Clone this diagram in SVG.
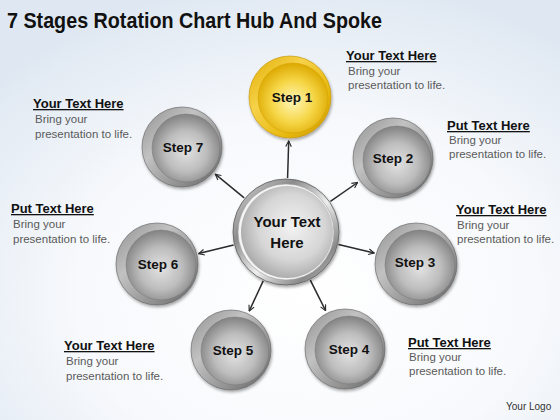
<svg xmlns="http://www.w3.org/2000/svg" width="560" height="420" viewBox="0 0 560 420">
<defs>
<radialGradient id="bg" cx="55%" cy="70%" r="75%">
<stop offset="0" stop-color="#ffffff"/>
<stop offset="0.55" stop-color="#f7f9fc"/>
<stop offset="1" stop-color="#dfe8f2"/>
</radialGradient>
<linearGradient id="ring" x1="0" y1="0" x2="1" y2="1">
<stop offset="0" stop-color="#8f8f8f"/>
<stop offset="0.35" stop-color="#c2c2c2"/>
<stop offset="0.7" stop-color="#929292"/>
<stop offset="1" stop-color="#606060"/>
</linearGradient>
<radialGradient id="disc" cx="50%" cy="55%" r="55%">
<stop offset="0" stop-color="#e2e2e2"/>
<stop offset="0.55" stop-color="#bdbdbd"/>
<stop offset="1" stop-color="#828282"/>
</radialGradient>
<linearGradient id="ringY" x1="0" y1="0" x2="1" y2="1">
<stop offset="0" stop-color="#e0ac00"/>
<stop offset="0.35" stop-color="#f6d24a"/>
<stop offset="0.7" stop-color="#e8b910"/>
<stop offset="1" stop-color="#c99500"/>
</linearGradient>
<radialGradient id="discY" cx="50%" cy="55%" r="55%">
<stop offset="0" stop-color="#fff6b8"/>
<stop offset="0.55" stop-color="#f6d646"/>
<stop offset="1" stop-color="#dca800"/>
</radialGradient>
<linearGradient id="hubRing" x1="0" y1="0" x2="1" y2="1">
<stop offset="0" stop-color="#d8d8d8"/>
<stop offset="0.3" stop-color="#8c8c8c"/>
<stop offset="0.55" stop-color="#eeeeee"/>
<stop offset="0.8" stop-color="#8a8a8a"/>
<stop offset="1" stop-color="#cfcfcf"/>
</linearGradient>
<radialGradient id="hubDisc" cx="55%" cy="45%" r="60%">
<stop offset="0" stop-color="#f2f2f2"/>
<stop offset="0.6" stop-color="#d6d6d6"/>
<stop offset="1" stop-color="#a4a4a4"/>
</radialGradient>
<filter id="sh" x="-30%" y="-30%" width="160%" height="160%">
<feDropShadow dx="1" dy="2" stdDeviation="1.5" flood-color="#000" flood-opacity="0.35"/>
</filter>
<marker id="ah" viewBox="0 0 10 10" refX="9" refY="5" markerWidth="7" markerHeight="7" orient="auto" markerUnits="userSpaceOnUse">
<path d="M1,1 L9,5 L1,9" fill="none" stroke="#2b2b2b" stroke-width="1.6"/>
</marker>
<style>
.title{font-family:"Liberation Sans",Arial,sans-serif;font-weight:bold;font-size:22px;fill:#111}
.hd{font-family:"Liberation Sans",Arial,sans-serif;font-weight:bold;font-size:13px;fill:#111;text-decoration:underline}
.bd{font-family:"Liberation Sans",Arial,sans-serif;font-size:11.5px;fill:#5a5a5a}
.st{font-family:"Liberation Sans",Arial,sans-serif;font-weight:bold;font-size:13.5px;fill:#111;text-anchor:middle}
.hub{font-family:"Liberation Sans",Arial,sans-serif;font-weight:bold;font-size:15px;fill:#111;text-anchor:middle}
.logo{font-family:"Liberation Sans",Arial,sans-serif;font-size:10px;fill:#333}
.ring{fill:url(#ring);stroke:#5e5e5e;stroke-width:0.6;filter:url(#sh)}
.disc{fill:url(#disc);stroke:#777;stroke-width:0.5}
.conn line{stroke:#2b2b2b;stroke-width:1.5;marker-end:url(#ah)}
</style>
</defs>
<rect width="560" height="420" fill="url(#bg)"/>
<text class="title" x="7" y="28" textLength="375" lengthAdjust="spacingAndGlyphs">7 Stages Rotation Chart Hub And Spoke</text>

<g id="connectors" class="conn">
<line x1="287.6" y1="178" x2="288.7" y2="141"/>
<line x1="330.4" y1="201.3" x2="357.6" y2="182.5"/>
<line x1="338.5" y1="244.5" x2="374.2" y2="253"/>
<line x1="310.3" y1="280.2" x2="325.6" y2="310.6"/>
<line x1="263.2" y1="280.9" x2="249.2" y2="311"/>
<line x1="233.6" y1="245" x2="198.7" y2="253.6"/>
<line x1="244.2" y1="197.8" x2="215.3" y2="174.2"/>
</g>

<g id="hub">
<circle cx="286" cy="232" r="53" fill="url(#hubRing)" stroke="#666" stroke-width="0.9" filter="url(#sh)"/>
<circle cx="286" cy="232" r="48" fill="#f4f4f4" stroke="#999" stroke-width="0.6"/>
<circle cx="287" cy="232" r="46" fill="url(#hubDisc)"/>
<text class="hub" x="287" y="227">Your Text</text>
<text class="hub" x="287" y="248">Here</text>
</g>

<g id="step1">
<circle cx="290" cy="97" r="41" fill="url(#ringY)" stroke="#c49200" stroke-width="0.6" filter="url(#sh)"/>
<circle cx="293" cy="98" r="35" fill="url(#discY)" stroke="#d2a000" stroke-width="0.5"/>
<text class="st" x="292" y="102">Step 1</text>
</g>
<g id="step2">
<circle class="ring" cx="393" cy="158" r="40"/>
<circle class="disc" cx="397" cy="160" r="34"/>
<text class="st" x="393" y="163">Step 2</text>
</g>
<g id="step3">
<circle class="ring" cx="416" cy="264" r="41"/>
<circle class="disc" cx="420" cy="265" r="35"/>
<text class="st" x="415" y="267">Step 3</text>
</g>
<g id="step4">
<circle class="ring" cx="345" cy="349" r="40"/>
<circle class="disc" cx="349" cy="350" r="34"/>
<text class="st" x="349" y="354">Step 4</text>
</g>
<g id="step5">
<circle class="ring" cx="231" cy="350" r="40"/>
<circle class="disc" cx="235" cy="351" r="34"/>
<text class="st" x="233" y="355">Step 5</text>
</g>
<g id="step6">
<circle class="ring" cx="157" cy="264" r="41"/>
<circle class="disc" cx="161" cy="265" r="35"/>
<text class="st" x="158" y="269">Step 6</text>
</g>
<g id="step7">
<circle class="ring" cx="182" cy="147" r="40"/>
<circle class="disc" cx="186" cy="148" r="34"/>
<text class="st" x="183" y="152">Step 7</text>
</g>

<g id="label1">
<text class="hd" x="346" y="60">Your Text Here</text>
<text class="bd" x="348" y="75">Bring your</text>
<text class="bd" x="348" y="89">presentation to life.</text>
</g>
<g id="label2">
<text class="hd" x="447" y="130">Put Text Here</text>
<text class="bd" x="449" y="144">Bring your</text>
<text class="bd" x="449" y="158">presentation to life.</text>
</g>
<g id="label3">
<text class="hd" x="456" y="214">Your Text Here</text>
<text class="bd" x="457" y="229">Bring your</text>
<text class="bd" x="457" y="243">presentation to life.</text>
</g>
<g id="label4">
<text class="hd" x="408" y="347">Put Text Here</text>
<text class="bd" x="409" y="361">Bring your</text>
<text class="bd" x="409" y="375">presentation to life.</text>
</g>
<g id="label5">
<text class="hd" x="64" y="350">Your Text Here</text>
<text class="bd" x="66" y="365">Bring your</text>
<text class="bd" x="66" y="380">presentation to life.</text>
</g>
<g id="label6">
<text class="hd" x="11" y="213">Put Text Here</text>
<text class="bd" x="13" y="228">Bring your</text>
<text class="bd" x="13" y="243">presentation to life.</text>
</g>
<g id="label7">
<text class="hd" x="33" y="108">Your Text Here</text>
<text class="bd" x="35" y="123">Bring your</text>
<text class="bd" x="35" y="138">presentation to life.</text>
</g>
<text class="logo" x="506" y="410">Your Logo</text>
</svg>
